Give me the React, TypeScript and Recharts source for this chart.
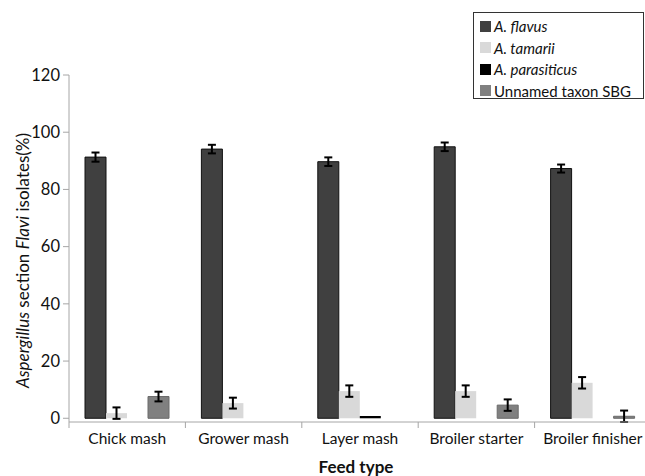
import React from 'react';
import { BarChart, Bar, XAxis, YAxis, ErrorBar } from 'recharts';

const categories = ['Chick mash', 'Grower mash', 'Layer mash', 'Broiler starter', 'Broiler finisher'];
const flavus = [91.3, 94.1, 89.7, 94.9, 87.3];
const flavusErr = [1.6, 1.5, 1.5, 1.5, 1.4];
const tamarii = [1.8, 5.3, 9.5, 9.5, 12.4];
const tamariiErr = [2.0, 1.9, 2.0, 2.0, 2.0];
const parasiticus: (number | null)[] = [null, null, 0.8, null, null];
const unnamed: (number | null)[] = [7.6, null, null, 4.6, 0.7];
const unnamedErr: (number | null)[] = [1.7, null, null, 2.0, 2.0];
const yTicks = [0, 20, 40, 60, 80, 100, 120];

const seriesInfo = [
  { key: 'flavus', name: 'A. flavus', color: '#404040', italic: true },
  { key: 'tamarii', name: 'A. tamarii', color: '#d9d9d9', italic: true },
  { key: 'parasiticus', name: 'A. parasiticus', color: '#000000', italic: true },
  { key: 'unnamed', name: 'Unnamed taxon SBG', color: '#808080', italic: false },
];

const data = categories.map((c, i) => ({
  name: c,
  flavus: flavus[i],
  flavusErr: flavusErr[i],
  tamarii: tamarii[i],
  tamariiErr: tamariiErr[i],
  parasiticus: parasiticus[i],
  unnamed: unnamed[i],
  unnamedErr: unnamedErr[i],
}));

const FONT = 'Lato, "Open Sans", sans-serif';
const AXIS = '#a6a6a6';

const XTick = (props: any) => {
  const { x, y, payload } = props;
  const half = payload && typeof payload.offset === 'number' && payload.offset > 0 ? payload.offset : 58;
  const y0 = y - 8;
  return (
    <g>
      <line x1={x - half} x2={x - half} y1={y0} y2={y0 + 6} stroke={AXIS} />
      <text x={x} y={y + 14} textAnchor="middle" fontFamily={FONT} fontSize={15.5} fill="#111">
        {payload.value}
      </text>
    </g>
  );
};

const YLabel = (props: any) => {
  const vb = props.viewBox || {};
  const cx = 22;
  const cy = (vb.y ?? 75) + (vb.height ?? 347) / 2 + 12;
  return (
    <text
      x={cx}
      y={cy}
      transform={`rotate(-90, ${cx}, ${cy})`}
      textAnchor="middle"
      dominantBaseline="central"
      fontFamily={FONT}
      fontSize={17}
      fill="#111"
    >
      <tspan fontStyle="italic">Aspergillus</tspan>
      <tspan> section </tspan>
      <tspan fontStyle="italic">Flavi</tspan>
      <tspan> isolates(%)</tspan>
    </text>
  );
};

const XLabel = (props: any) => {
  const vb = props.viewBox || {};
  const cx = (vb.x ?? 69) + (vb.width ?? 582) / 2 - 4;
  return (
    <text x={cx} y={473} textAnchor="middle" fontFamily={FONT} fontSize={17} fontWeight="bold" fill="#111">
      Feed type
    </text>
  );
};

export default function App() {
  return (
    <div style={{ position: 'absolute', left: 0, top: 0, width: 645, height: 476, overflow: 'hidden', background: '#fff' }}>
      <BarChart
        width={660}
        height={476}
        data={data}
        margin={{ top: 75, right: 9, bottom: 24, left: 0 }}
        barCategoryGap={16}
        barGap={0}
      >
        <XAxis
          dataKey="name"
          stroke={AXIS}
          tickLine={false}
          tickSize={6}
          tickMargin={2}
          height={30}
          tick={<XTick />}
          interval={0}
          label={<XLabel />}
        />
        <YAxis
          domain={[0, 120]}
          ticks={yTicks}
          stroke={AXIS}
          width={69}
          tickSize={6}
          tickMargin={3}
          tick={{ fill: '#111', fontFamily: FONT, fontSize: 16.5 }}
          label={<YLabel />}
        />
        <Bar dataKey="flavus" fill="#404040" stroke="#111" strokeWidth={1} isAnimationActive={false}>
          <ErrorBar dataKey="flavusErr" width={4} stroke="#000" strokeWidth={2} />
        </Bar>
        <Bar dataKey="tamarii" fill="#d9d9d9" isAnimationActive={false}>
          <ErrorBar dataKey="tamariiErr" width={4} stroke="#000" strokeWidth={2} />
        </Bar>
        <Bar dataKey="parasiticus" fill="#000000" isAnimationActive={false} />
        <Bar dataKey="unnamed" fill="#808080" stroke="#6a6a6a" strokeWidth={1} isAnimationActive={false}>
          <ErrorBar dataKey="unnamedErr" width={4} stroke="#000" strokeWidth={2} />
        </Bar>
      </BarChart>
      <div
        style={{
          position: 'absolute',
          left: 473,
          top: 12,
          width: 169,
          height: 85,
          border: '1px solid #333',
          background: '#fff',
          fontFamily: FONT,
          fontSize: 15,
          color: '#111',
          boxSizing: 'content-box',
        }}
      >
        {seriesInfo.map((s, i) => (
          <div key={s.key} style={{ position: 'absolute', left: 6, top: 3 + i * 21.5, height: 20, display: 'flex', alignItems: 'center', whiteSpace: 'nowrap' }}>
            <span style={{ display: 'inline-block', width: 11, height: 11, background: s.color, marginRight: 3 }} />
            <span style={{ fontStyle: s.italic ? 'italic' : 'normal' }}>{s.name}</span>
          </div>
        ))}
      </div>
    </div>
  );
}
